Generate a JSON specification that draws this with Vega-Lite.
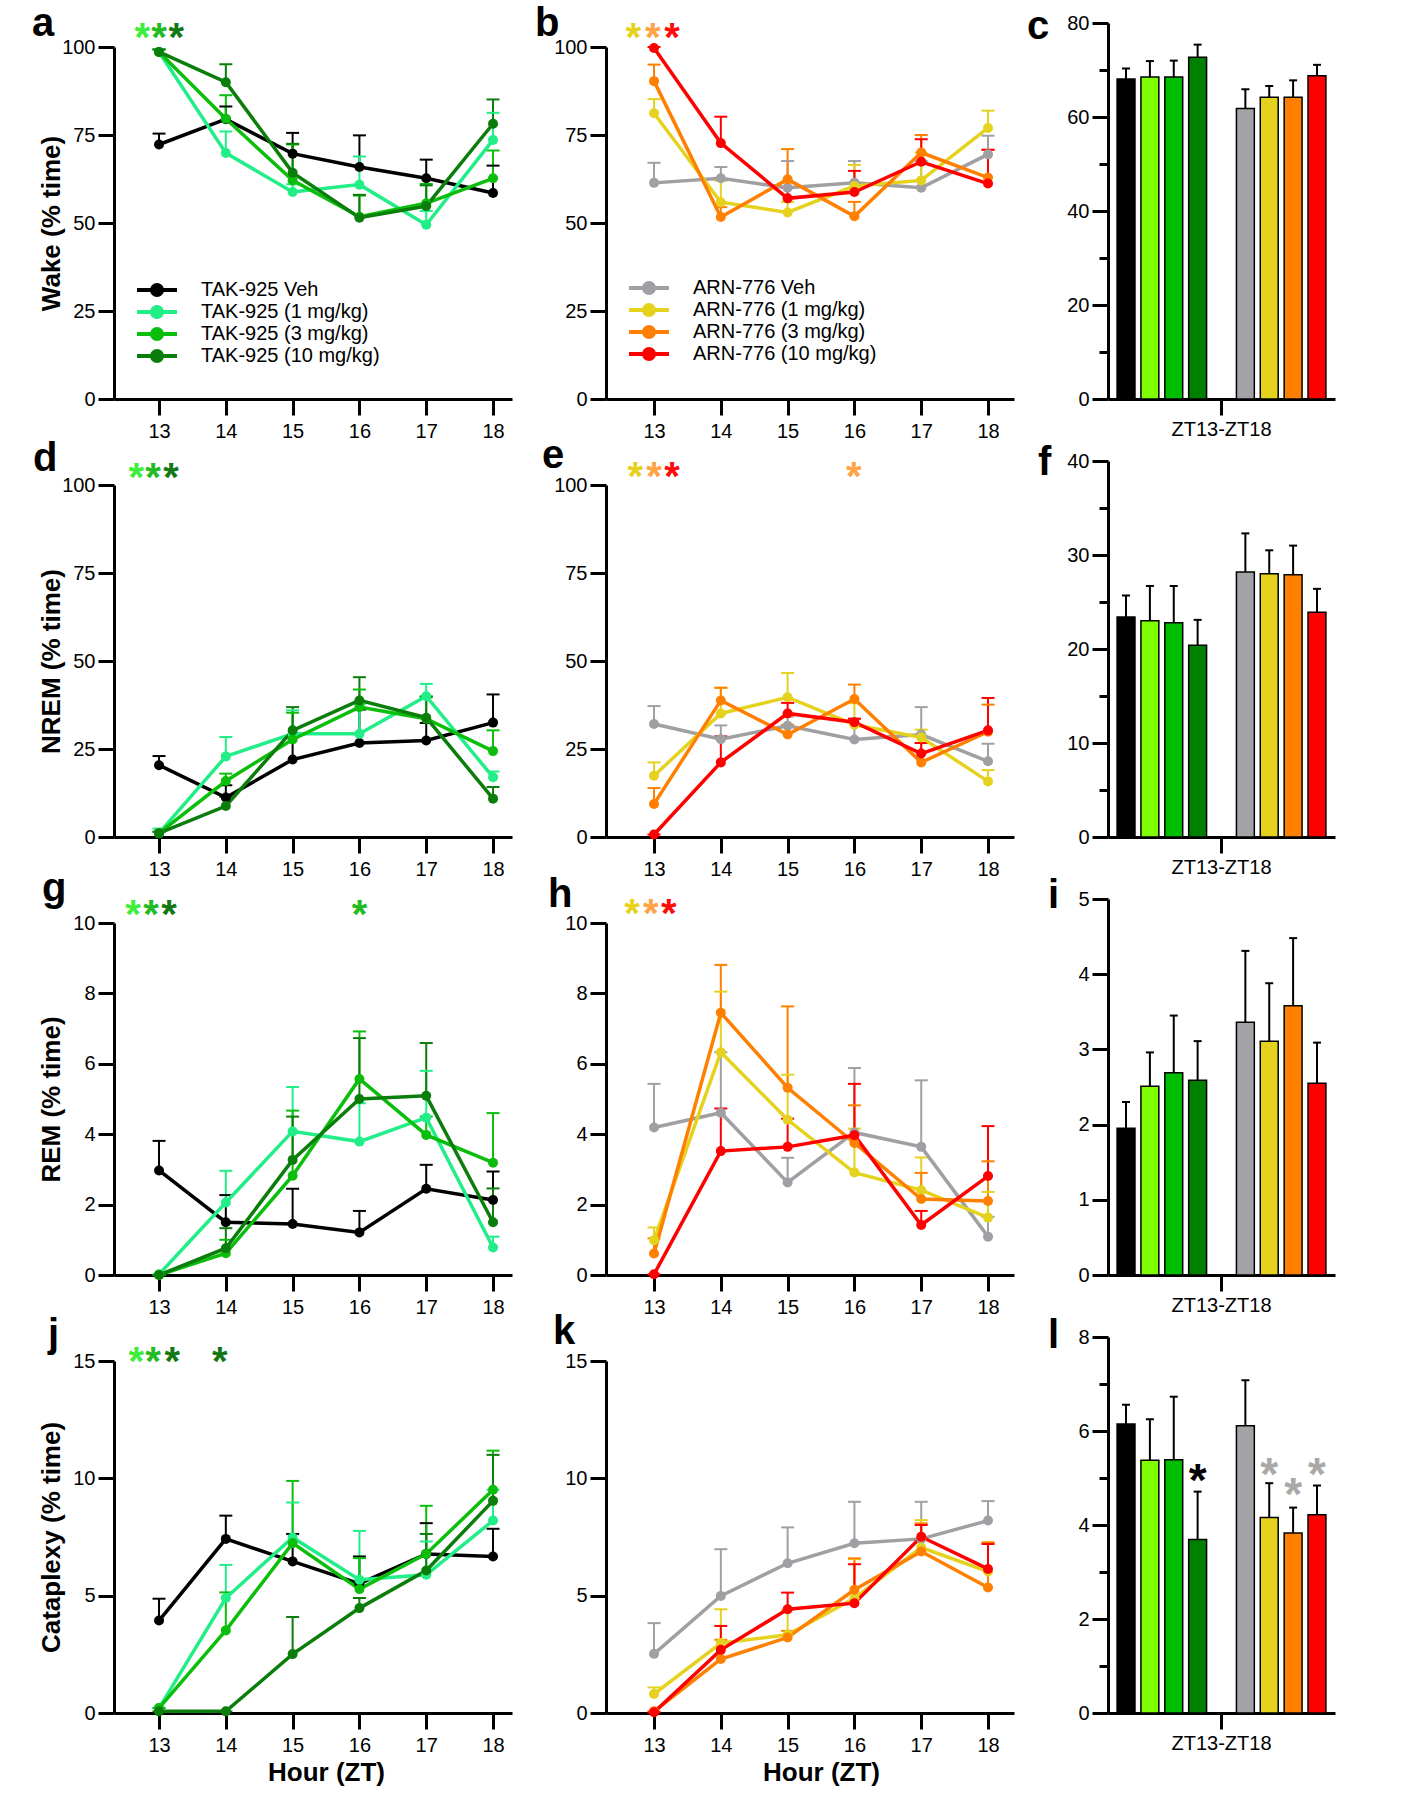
{
"$schema":"https://vega.github.io/schema/vega-lite/v6.json",
"background":"white",
"padding":{"left":32,"top":3,"right":5,"bottom":5},
"config":{
 "font":"Liberation Sans",
 "view":{"stroke":null},
 "axis":{"grid":false,"domainColor":"black","domainWidth":3,"tickColor":"black","tickWidth":3,"tickSize":16,"labelFontSize":20,"labelColor":"black","labelFont":"Liberation Sans","titleFont":"Liberation Sans","titleFontSize":26,"titleFontWeight":"bold","titleColor":"black","labelPadding":3,"labelOverlap":false,"labelFlush":false},
 "axisX":{"labelPadding":6},
 "title":{"fontSize":40,"fontWeight":"bold","anchor":"start","frame":"group","color":"black","font":"Liberation Sans","baseline":"alphabetic"}
},
"datasets":{
"lines":[
{"panel":"a","series":"TAK-925 Veh","hour":13,"mean":72.3,"upper":75.4},{"panel":"a","series":"TAK-925 Veh","hour":14,"mean":79.5,"upper":83.1},{"panel":"a","series":"TAK-925 Veh","hour":15,"mean":69.7,"upper":75.6},{"panel":"a","series":"TAK-925 Veh","hour":16,"mean":65.9,"upper":74.9},{"panel":"a","series":"TAK-925 Veh","hour":17,"mean":62.7,"upper":68.0},{"panel":"a","series":"TAK-925 Veh","hour":18,"mean":58.5,"upper":66.3},
{"panel":"a","series":"TAK-925 (1 mg/kg)","hour":13,"mean":98.6,"upper":99.3},{"panel":"a","series":"TAK-925 (1 mg/kg)","hour":14,"mean":69.9,"upper":76.0},{"panel":"a","series":"TAK-925 (1 mg/kg)","hour":15,"mean":58.8,"upper":61.0},{"panel":"a","series":"TAK-925 (1 mg/kg)","hour":16,"mean":60.9,"upper":68.9},{"panel":"a","series":"TAK-925 (1 mg/kg)","hour":17,"mean":49.5,"upper":53.4},{"panel":"a","series":"TAK-925 (1 mg/kg)","hour":18,"mean":73.6,"upper":81.3},
{"panel":"a","series":"TAK-925 (3 mg/kg)","hour":13,"mean":98.6,"upper":99.3},{"panel":"a","series":"TAK-925 (3 mg/kg)","hour":14,"mean":79.6,"upper":86.3},{"panel":"a","series":"TAK-925 (3 mg/kg)","hour":15,"mean":62.1,"upper":72.3},{"panel":"a","series":"TAK-925 (3 mg/kg)","hour":16,"mean":51.8,"upper":57.8},{"panel":"a","series":"TAK-925 (3 mg/kg)","hour":17,"mean":55.6,"upper":61.1},{"panel":"a","series":"TAK-925 (3 mg/kg)","hour":18,"mean":62.7,"upper":70.6},
{"panel":"a","series":"TAK-925 (10 mg/kg)","hour":13,"mean":98.6,"upper":99.3},{"panel":"a","series":"TAK-925 (10 mg/kg)","hour":14,"mean":90.0,"upper":95.1},{"panel":"a","series":"TAK-925 (10 mg/kg)","hour":15,"mean":64.3,"upper":72.5},{"panel":"a","series":"TAK-925 (10 mg/kg)","hour":16,"mean":51.5,"upper":58.0},{"panel":"a","series":"TAK-925 (10 mg/kg)","hour":17,"mean":54.8,"upper":60.7},{"panel":"a","series":"TAK-925 (10 mg/kg)","hour":18,"mean":78.2,"upper":85.1},
{"panel":"b","series":"ARN-776 Veh","hour":13,"mean":61.4,"upper":67.1},{"panel":"b","series":"ARN-776 Veh","hour":14,"mean":62.7,"upper":65.9},{"panel":"b","series":"ARN-776 Veh","hour":15,"mean":60.0,"upper":67.6},{"panel":"b","series":"ARN-776 Veh","hour":16,"mean":61.4,"upper":67.6},{"panel":"b","series":"ARN-776 Veh","hour":17,"mean":60.0,"upper":67.6},{"panel":"b","series":"ARN-776 Veh","hour":18,"mean":69.5,"upper":74.8},
{"panel":"b","series":"ARN-776 (1 mg/kg)","hour":13,"mean":81.2,"upper":85.2},{"panel":"b","series":"ARN-776 (1 mg/kg)","hour":14,"mean":55.9,"upper":62.0},{"panel":"b","series":"ARN-776 (1 mg/kg)","hour":15,"mean":53.0,"upper":56.0},{"panel":"b","series":"ARN-776 (1 mg/kg)","hour":16,"mean":60.5,"upper":66.5},{"panel":"b","series":"ARN-776 (1 mg/kg)","hour":17,"mean":62.1,"upper":70.0},{"panel":"b","series":"ARN-776 (1 mg/kg)","hour":18,"mean":77.0,"upper":81.9},
{"panel":"b","series":"ARN-776 (3 mg/kg)","hour":13,"mean":90.3,"upper":95.0},{"panel":"b","series":"ARN-776 (3 mg/kg)","hour":14,"mean":51.7,"upper":54.5},{"panel":"b","series":"ARN-776 (3 mg/kg)","hour":15,"mean":62.4,"upper":71.0},{"panel":"b","series":"ARN-776 (3 mg/kg)","hour":16,"mean":51.9,"upper":56.0},{"panel":"b","series":"ARN-776 (3 mg/kg)","hour":17,"mean":70.0,"upper":75.0},{"panel":"b","series":"ARN-776 (3 mg/kg)","hour":18,"mean":62.9,"upper":70.8},
{"panel":"b","series":"ARN-776 (10 mg/kg)","hour":13,"mean":99.7,"upper":100.0},{"panel":"b","series":"ARN-776 (10 mg/kg)","hour":14,"mean":72.7,"upper":80.2},{"panel":"b","series":"ARN-776 (10 mg/kg)","hour":15,"mean":57.0,"upper":60.0},{"panel":"b","series":"ARN-776 (10 mg/kg)","hour":16,"mean":58.8,"upper":64.8},{"panel":"b","series":"ARN-776 (10 mg/kg)","hour":17,"mean":67.4,"upper":73.8},{"panel":"b","series":"ARN-776 (10 mg/kg)","hour":18,"mean":61.2,"upper":70.8},
{"panel":"d","series":"TAK-925 Veh","hour":13,"mean":20.4,"upper":23.0},{"panel":"d","series":"TAK-925 Veh","hour":14,"mean":11.2,"upper":14.7},{"panel":"d","series":"TAK-925 Veh","hour":15,"mean":22.0,"upper":28.6},{"panel":"d","series":"TAK-925 Veh","hour":16,"mean":26.7,"upper":36.2},{"panel":"d","series":"TAK-925 Veh","hour":17,"mean":27.4,"upper":32.4},{"panel":"d","series":"TAK-925 Veh","hour":18,"mean":32.5,"upper":40.5},
{"panel":"d","series":"TAK-925 (1 mg/kg)","hour":13,"mean":1.1,"upper":2.4},{"panel":"d","series":"TAK-925 (1 mg/kg)","hour":14,"mean":22.9,"upper":28.4},{"panel":"d","series":"TAK-925 (1 mg/kg)","hour":15,"mean":29.3,"upper":36.0},{"panel":"d","series":"TAK-925 (1 mg/kg)","hour":16,"mean":29.3,"upper":37.8},{"panel":"d","series":"TAK-925 (1 mg/kg)","hour":17,"mean":40.0,"upper":43.5},{"panel":"d","series":"TAK-925 (1 mg/kg)","hour":18,"mean":17.0,"upper":18.6},
{"panel":"d","series":"TAK-925 (3 mg/kg)","hour":13,"mean":1.1,"upper":1.5},{"panel":"d","series":"TAK-925 (3 mg/kg)","hour":14,"mean":15.9,"upper":18.0},{"panel":"d","series":"TAK-925 (3 mg/kg)","hour":15,"mean":27.7,"upper":35.3},{"panel":"d","series":"TAK-925 (3 mg/kg)","hour":16,"mean":36.9,"upper":41.9},{"panel":"d","series":"TAK-925 (3 mg/kg)","hour":17,"mean":33.6,"upper":40.0},{"panel":"d","series":"TAK-925 (3 mg/kg)","hour":18,"mean":24.4,"upper":30.3},
{"panel":"d","series":"TAK-925 (10 mg/kg)","hour":13,"mean":1.1,"upper":1.5},{"panel":"d","series":"TAK-925 (10 mg/kg)","hour":14,"mean":8.8,"upper":11.4},{"panel":"d","series":"TAK-925 (10 mg/kg)","hour":15,"mean":30.3,"upper":36.9},{"panel":"d","series":"TAK-925 (10 mg/kg)","hour":16,"mean":38.8,"upper":45.4},{"panel":"d","series":"TAK-925 (10 mg/kg)","hour":17,"mean":33.9,"upper":39.7},{"panel":"d","series":"TAK-925 (10 mg/kg)","hour":18,"mean":10.9,"upper":14.2},
{"panel":"e","series":"ARN-776 Veh","hour":13,"mean":32.1,"upper":37.2},{"panel":"e","series":"ARN-776 Veh","hour":14,"mean":27.8,"upper":31.7},{"panel":"e","series":"ARN-776 Veh","hour":15,"mean":31.6,"upper":34.2},{"panel":"e","series":"ARN-776 Veh","hour":16,"mean":27.7,"upper":33.6},{"panel":"e","series":"ARN-776 Veh","hour":17,"mean":29.1,"upper":36.9},{"panel":"e","series":"ARN-776 Veh","hour":18,"mean":21.5,"upper":26.5},
{"panel":"e","series":"ARN-776 (1 mg/kg)","hour":13,"mean":17.4,"upper":21.2},{"panel":"e","series":"ARN-776 (1 mg/kg)","hour":14,"mean":35.1,"upper":42.4},{"panel":"e","series":"ARN-776 (1 mg/kg)","hour":15,"mean":39.7,"upper":46.6},{"panel":"e","series":"ARN-776 (1 mg/kg)","hour":16,"mean":31.9,"upper":38.0},{"panel":"e","series":"ARN-776 (1 mg/kg)","hour":17,"mean":28.3,"upper":30.5},{"panel":"e","series":"ARN-776 (1 mg/kg)","hour":18,"mean":15.8,"upper":19.0},
{"panel":"e","series":"ARN-776 (3 mg/kg)","hour":13,"mean":9.4,"upper":13.9},{"panel":"e","series":"ARN-776 (3 mg/kg)","hour":14,"mean":38.8,"upper":42.4},{"panel":"e","series":"ARN-776 (3 mg/kg)","hour":15,"mean":29.1,"upper":31.9},{"panel":"e","series":"ARN-776 (3 mg/kg)","hour":16,"mean":39.2,"upper":43.3},{"panel":"e","series":"ARN-776 (3 mg/kg)","hour":17,"mean":21.2,"upper":26.7},{"panel":"e","series":"ARN-776 (3 mg/kg)","hour":18,"mean":29.9,"upper":37.6},
{"panel":"e","series":"ARN-776 (10 mg/kg)","hour":13,"mean":0.7,"upper":0.7},{"panel":"e","series":"ARN-776 (10 mg/kg)","hour":14,"mean":21.2,"upper":28.6},{"panel":"e","series":"ARN-776 (10 mg/kg)","hour":15,"mean":35.1,"upper":38.1},{"panel":"e","series":"ARN-776 (10 mg/kg)","hour":16,"mean":32.6,"upper":33.6},{"panel":"e","series":"ARN-776 (10 mg/kg)","hour":17,"mean":23.7,"upper":26.7},{"panel":"e","series":"ARN-776 (10 mg/kg)","hour":18,"mean":30.3,"upper":39.5},
{"panel":"g","series":"TAK-925 Veh","hour":13,"mean":2.97,"upper":3.81},{"panel":"g","series":"TAK-925 Veh","hour":14,"mean":1.50,"upper":2.27},{"panel":"g","series":"TAK-925 Veh","hour":15,"mean":1.45,"upper":2.45},{"panel":"g","series":"TAK-925 Veh","hour":16,"mean":1.21,"upper":1.82},{"panel":"g","series":"TAK-925 Veh","hour":17,"mean":2.45,"upper":3.13},{"panel":"g","series":"TAK-925 Veh","hour":18,"mean":2.13,"upper":2.94},
{"panel":"g","series":"TAK-925 (1 mg/kg)","hour":13,"mean":0.02,"upper":0.02},{"panel":"g","series":"TAK-925 (1 mg/kg)","hour":14,"mean":2.06,"upper":2.96},{"panel":"g","series":"TAK-925 (1 mg/kg)","hour":15,"mean":4.08,"upper":5.34},{"panel":"g","series":"TAK-925 (1 mg/kg)","hour":16,"mean":3.79,"upper":4.88},{"panel":"g","series":"TAK-925 (1 mg/kg)","hour":17,"mean":4.47,"upper":5.80},{"panel":"g","series":"TAK-925 (1 mg/kg)","hour":18,"mean":0.78,"upper":1.09},
{"panel":"g","series":"TAK-925 (3 mg/kg)","hour":13,"mean":0.0,"upper":0.0},{"panel":"g","series":"TAK-925 (3 mg/kg)","hour":14,"mean":0.62,"upper":1.0},{"panel":"g","series":"TAK-925 (3 mg/kg)","hour":15,"mean":2.82,"upper":4.67},{"panel":"g","series":"TAK-925 (3 mg/kg)","hour":16,"mean":5.57,"upper":6.92},{"panel":"g","series":"TAK-925 (3 mg/kg)","hour":17,"mean":3.98,"upper":4.5},{"panel":"g","series":"TAK-925 (3 mg/kg)","hour":18,"mean":3.19,"upper":4.60},
{"panel":"g","series":"TAK-925 (10 mg/kg)","hour":13,"mean":0.0,"upper":0.0},{"panel":"g","series":"TAK-925 (10 mg/kg)","hour":14,"mean":0.76,"upper":1.33},{"panel":"g","series":"TAK-925 (10 mg/kg)","hour":15,"mean":3.27,"upper":4.50},{"panel":"g","series":"TAK-925 (10 mg/kg)","hour":16,"mean":5.0,"upper":6.73},{"panel":"g","series":"TAK-925 (10 mg/kg)","hour":17,"mean":5.09,"upper":6.59},{"panel":"g","series":"TAK-925 (10 mg/kg)","hour":18,"mean":1.50,"upper":2.46},
{"panel":"h","series":"ARN-776 Veh","hour":13,"mean":4.19,"upper":5.43},{"panel":"h","series":"ARN-776 Veh","hour":14,"mean":4.61,"upper":6.33},{"panel":"h","series":"ARN-776 Veh","hour":15,"mean":2.63,"upper":3.33},{"panel":"h","series":"ARN-776 Veh","hour":16,"mean":4.05,"upper":5.88},{"panel":"h","series":"ARN-776 Veh","hour":17,"mean":3.64,"upper":5.53},{"panel":"h","series":"ARN-776 Veh","hour":18,"mean":1.09,"upper":1.65},
{"panel":"h","series":"ARN-776 (1 mg/kg)","hour":13,"mean":0.99,"upper":1.35},{"panel":"h","series":"ARN-776 (1 mg/kg)","hour":14,"mean":6.33,"upper":8.05},{"panel":"h","series":"ARN-776 (1 mg/kg)","hour":15,"mean":4.41,"upper":5.69},{"panel":"h","series":"ARN-776 (1 mg/kg)","hour":16,"mean":2.91,"upper":4.16},{"panel":"h","series":"ARN-776 (1 mg/kg)","hour":17,"mean":2.41,"upper":3.34},{"panel":"h","series":"ARN-776 (1 mg/kg)","hour":18,"mean":1.63,"upper":2.36},
{"panel":"h","series":"ARN-776 (3 mg/kg)","hour":13,"mean":0.61,"upper":1.04},{"panel":"h","series":"ARN-776 (3 mg/kg)","hour":14,"mean":7.45,"upper":8.81},{"panel":"h","series":"ARN-776 (3 mg/kg)","hour":15,"mean":5.32,"upper":7.63},{"panel":"h","series":"ARN-776 (3 mg/kg)","hour":16,"mean":3.75,"upper":4.82},{"panel":"h","series":"ARN-776 (3 mg/kg)","hour":17,"mean":2.16,"upper":2.90},{"panel":"h","series":"ARN-776 (3 mg/kg)","hour":18,"mean":2.10,"upper":3.23},
{"panel":"h","series":"ARN-776 (10 mg/kg)","hour":13,"mean":0.02,"upper":0.02},{"panel":"h","series":"ARN-776 (10 mg/kg)","hour":14,"mean":3.52,"upper":4.73},{"panel":"h","series":"ARN-776 (10 mg/kg)","hour":15,"mean":3.64,"upper":4.44},{"panel":"h","series":"ARN-776 (10 mg/kg)","hour":16,"mean":3.97,"upper":5.43},{"panel":"h","series":"ARN-776 (10 mg/kg)","hour":17,"mean":1.42,"upper":1.82},{"panel":"h","series":"ARN-776 (10 mg/kg)","hour":18,"mean":2.81,"upper":4.23},
{"panel":"j","series":"TAK-925 Veh","hour":13,"mean":3.94,"upper":4.87},{"panel":"j","series":"TAK-925 Veh","hour":14,"mean":7.42,"upper":8.41},{"panel":"j","series":"TAK-925 Veh","hour":15,"mean":6.46,"upper":7.63},{"panel":"j","series":"TAK-925 Veh","hour":16,"mean":5.51,"upper":6.67},{"panel":"j","series":"TAK-925 Veh","hour":17,"mean":6.78,"upper":8.09},{"panel":"j","series":"TAK-925 Veh","hour":18,"mean":6.67,"upper":7.85},
{"panel":"j","series":"TAK-925 (1 mg/kg)","hour":13,"mean":0.21,"upper":0.21},{"panel":"j","series":"TAK-925 (1 mg/kg)","hour":14,"mean":4.90,"upper":6.31},{"panel":"j","series":"TAK-925 (1 mg/kg)","hour":15,"mean":7.48,"upper":8.97},{"panel":"j","series":"TAK-925 (1 mg/kg)","hour":16,"mean":5.68,"upper":7.76},{"panel":"j","series":"TAK-925 (1 mg/kg)","hour":17,"mean":5.89,"upper":7.31},{"panel":"j","series":"TAK-925 (1 mg/kg)","hour":18,"mean":8.20,"upper":9.51},
{"panel":"j","series":"TAK-925 (3 mg/kg)","hour":13,"mean":0.21,"upper":0.21},{"panel":"j","series":"TAK-925 (3 mg/kg)","hour":14,"mean":3.52,"upper":5.14},{"panel":"j","series":"TAK-925 (3 mg/kg)","hour":15,"mean":7.24,"upper":9.89},{"panel":"j","series":"TAK-925 (3 mg/kg)","hour":16,"mean":5.28,"upper":6.6},{"panel":"j","series":"TAK-925 (3 mg/kg)","hour":17,"mean":6.78,"upper":8.83},{"panel":"j","series":"TAK-925 (3 mg/kg)","hour":18,"mean":9.51,"upper":11.18},
{"panel":"j","series":"TAK-925 (10 mg/kg)","hour":13,"mean":0.07,"upper":0.07},{"panel":"j","series":"TAK-925 (10 mg/kg)","hour":14,"mean":0.07,"upper":0.07},{"panel":"j","series":"TAK-925 (10 mg/kg)","hour":15,"mean":2.51,"upper":4.09},{"panel":"j","series":"TAK-925 (10 mg/kg)","hour":16,"mean":4.47,"upper":4.9},{"panel":"j","series":"TAK-925 (10 mg/kg)","hour":17,"mean":6.07,"upper":7.63},{"panel":"j","series":"TAK-925 (10 mg/kg)","hour":18,"mean":9.04,"upper":11.0},
{"panel":"k","series":"ARN-776 Veh","hour":13,"mean":2.52,"upper":3.83},{"panel":"k","series":"ARN-776 Veh","hour":14,"mean":4.99,"upper":6.98},{"panel":"k","series":"ARN-776 Veh","hour":15,"mean":6.38,"upper":7.91},{"panel":"k","series":"ARN-776 Veh","hour":16,"mean":7.23,"upper":9.0},{"panel":"k","series":"ARN-776 Veh","hour":17,"mean":7.42,"upper":9.0},{"panel":"k","series":"ARN-776 Veh","hour":18,"mean":8.20,"upper":9.03},
{"panel":"k","series":"ARN-776 (1 mg/kg)","hour":13,"mean":0.81,"upper":1.09},{"panel":"k","series":"ARN-776 (1 mg/kg)","hour":14,"mean":2.98,"upper":4.42},{"panel":"k","series":"ARN-776 (1 mg/kg)","hour":15,"mean":3.33,"upper":4.40},{"panel":"k","series":"ARN-776 (1 mg/kg)","hour":16,"mean":4.89,"upper":6.56},{"panel":"k","series":"ARN-776 (1 mg/kg)","hour":17,"mean":7.05,"upper":8.22},{"panel":"k","series":"ARN-776 (1 mg/kg)","hour":18,"mean":6.03,"upper":7.27},
{"panel":"k","series":"ARN-776 (3 mg/kg)","hour":13,"mean":0.07,"upper":0.07},{"panel":"k","series":"ARN-776 (3 mg/kg)","hour":14,"mean":2.30,"upper":3.12},{"panel":"k","series":"ARN-776 (3 mg/kg)","hour":15,"mean":3.22,"upper":3.5},{"panel":"k","series":"ARN-776 (3 mg/kg)","hour":16,"mean":5.25,"upper":6.59},{"panel":"k","series":"ARN-776 (3 mg/kg)","hour":17,"mean":6.88,"upper":8.08},{"panel":"k","series":"ARN-776 (3 mg/kg)","hour":18,"mean":5.35,"upper":7.27},
{"panel":"k","series":"ARN-776 (10 mg/kg)","hour":13,"mean":0.03,"upper":0.03},{"panel":"k","series":"ARN-776 (10 mg/kg)","hour":14,"mean":2.69,"upper":3.71},{"panel":"k","series":"ARN-776 (10 mg/kg)","hour":15,"mean":4.42,"upper":5.13},{"panel":"k","series":"ARN-776 (10 mg/kg)","hour":16,"mean":4.68,"upper":6.34},{"panel":"k","series":"ARN-776 (10 mg/kg)","hour":17,"mean":7.51,"upper":8.01},{"panel":"k","series":"ARN-776 (10 mg/kg)","hour":18,"mean":6.14,"upper":7.20}
],
"bars":[
{"panel":"c","group":"TAK-925 Veh","mean":68.1,"upper":70.3},{"panel":"c","group":"TAK-925 (1 mg/kg)","mean":68.5,"upper":71.9},{"panel":"c","group":"TAK-925 (3 mg/kg)","mean":68.5,"upper":72.0},{"panel":"c","group":"TAK-925 (10 mg/kg)","mean":72.7,"upper":75.4},{"panel":"c","group":"ARN-776 Veh","mean":61.8,"upper":65.9},{"panel":"c","group":"ARN-776 (1 mg/kg)","mean":64.2,"upper":66.6},{"panel":"c","group":"ARN-776 (3 mg/kg)","mean":64.2,"upper":67.8},{"panel":"c","group":"ARN-776 (10 mg/kg)","mean":68.8,"upper":71.1},
{"panel":"f","group":"TAK-925 Veh","mean":23.4,"upper":25.7},{"panel":"f","group":"TAK-925 (1 mg/kg)","mean":23.0,"upper":26.7},{"panel":"f","group":"TAK-925 (3 mg/kg)","mean":22.8,"upper":26.7},{"panel":"f","group":"TAK-925 (10 mg/kg)","mean":20.4,"upper":23.1},{"panel":"f","group":"ARN-776 Veh","mean":28.2,"upper":32.3},{"panel":"f","group":"ARN-776 (1 mg/kg)","mean":28.0,"upper":30.5},{"panel":"f","group":"ARN-776 (3 mg/kg)","mean":27.9,"upper":31.0},{"panel":"f","group":"ARN-776 (10 mg/kg)","mean":23.9,"upper":26.4},
{"panel":"i","group":"TAK-925 Veh","mean":1.95,"upper":2.30},{"panel":"i","group":"TAK-925 (1 mg/kg)","mean":2.51,"upper":2.96},{"panel":"i","group":"TAK-925 (3 mg/kg)","mean":2.69,"upper":3.45},{"panel":"i","group":"TAK-925 (10 mg/kg)","mean":2.59,"upper":3.11},{"panel":"i","group":"ARN-776 Veh","mean":3.36,"upper":4.31},{"panel":"i","group":"ARN-776 (1 mg/kg)","mean":3.11,"upper":3.88},{"panel":"i","group":"ARN-776 (3 mg/kg)","mean":3.58,"upper":4.48},{"panel":"i","group":"ARN-776 (10 mg/kg)","mean":2.55,"upper":3.09},
{"panel":"l","group":"TAK-925 Veh","mean":6.15,"upper":6.56},{"panel":"l","group":"TAK-925 (1 mg/kg)","mean":5.38,"upper":6.25},{"panel":"l","group":"TAK-925 (3 mg/kg)","mean":5.39,"upper":6.73},{"panel":"l","group":"TAK-925 (10 mg/kg)","mean":3.69,"upper":4.71},{"panel":"l","group":"ARN-776 Veh","mean":6.11,"upper":7.08},{"panel":"l","group":"ARN-776 (1 mg/kg)","mean":4.16,"upper":4.89},{"panel":"l","group":"ARN-776 (3 mg/kg)","mean":3.83,"upper":4.37},{"panel":"l","group":"ARN-776 (10 mg/kg)","mean":4.22,"upper":4.84}
],
"stars":[
{"panel":"a","hour":12.75,"level":99.0,"vs":"TAK-925 (1 mg/kg)"},{"panel":"a","hour":13.0,"level":99.0,"vs":"TAK-925 (3 mg/kg)"},{"panel":"a","hour":13.26,"level":99.0,"vs":"TAK-925 (10 mg/kg)"},
{"panel":"b","hour":12.69,"level":98.9,"vs":"ARN-776 (1 mg/kg)"},{"panel":"b","hour":12.98,"level":98.9,"vs":"ARN-776 (3 mg/kg)"},{"panel":"b","hour":13.27,"level":98.9,"vs":"ARN-776 (10 mg/kg)"},
{"panel":"d","hour":12.66,"level":98.2,"vs":"TAK-925 (1 mg/kg)"},{"panel":"d","hour":12.91,"level":98.2,"vs":"TAK-925 (3 mg/kg)"},{"panel":"d","hour":13.18,"level":98.2,"vs":"TAK-925 (10 mg/kg)"},
{"panel":"e","hour":12.72,"level":98.6,"vs":"ARN-776 (1 mg/kg)"},{"panel":"e","hour":13.0,"level":98.6,"vs":"ARN-776 (3 mg/kg)"},{"panel":"e","hour":13.27,"level":98.6,"vs":"ARN-776 (10 mg/kg)"},{"panel":"e","hour":15.99,"level":98.6,"vs":"ARN-776 (3 mg/kg)"},
{"panel":"g","hour":12.61,"level":9.87,"vs":"TAK-925 (1 mg/kg)"},{"panel":"g","hour":12.88,"level":9.87,"vs":"TAK-925 (3 mg/kg)"},{"panel":"g","hour":13.15,"level":9.87,"vs":"TAK-925 (10 mg/kg)"},{"panel":"g","hour":16.0,"level":9.87,"vs":"TAK-925 (3 mg/kg)"},
{"panel":"h","hour":12.67,"level":9.9,"vs":"ARN-776 (1 mg/kg)"},{"panel":"h","hour":12.95,"level":9.9,"vs":"ARN-776 (3 mg/kg)"},{"panel":"h","hour":13.22,"level":9.9,"vs":"ARN-776 (10 mg/kg)"},
{"panel":"j","hour":12.66,"level":14.4,"vs":"TAK-925 (1 mg/kg)"},{"panel":"j","hour":12.91,"level":14.4,"vs":"TAK-925 (3 mg/kg)"},{"panel":"j","hour":13.2,"level":14.4,"vs":"TAK-925 (10 mg/kg)"},{"panel":"j","hour":13.91,"level":14.4,"vs":"TAK-925 (10 mg/kg)"}
],
"barstars":[
{"panel":"l","group":"TAK-925 (10 mg/kg)","level":4.62,"vs":"TAK-925 Veh"},{"panel":"l","group":"ARN-776 (1 mg/kg)","level":4.74,"vs":"ARN-776 Veh"},{"panel":"l","group":"ARN-776 (3 mg/kg)","level":4.32,"vs":"ARN-776 Veh"},{"panel":"l","group":"ARN-776 (10 mg/kg)","level":4.74,"vs":"ARN-776 Veh"}
]
},
"columns":3,
"bounds":"flush",
"align":"each",
"spacing":{"row":62,"column":94},
"resolve":{"scale":{"color":"independent","fill":"independent"},"legend":{"color":"independent","fill":"independent"}},
"concat":[
{"title":{"text":"a","dx":-82,"offset":-25},"width":398,"height":376,"layer":[
 {"data":{"name":"lines"},"transform":[{"filter":"datum.panel === 'a'"}],"mark":{"type":"rule","strokeWidth":2},"encoding":{"x":{"field":"hour","type":"quantitative","scale":{"domain":[12.326,18.284],"nice":false,"zero":false},"axis":{"values":[13,14,15,16,17,18],"format":"d","title":null}},"y":{"field":"mean","type":"quantitative","scale":{"domain":[0,100],"range":[376,24],"nice":false},"axis":{"values":[0,25,50,75,100],"title":"Wake (% time)","titleX":-50}},"y2":{"field":"upper"},"color":{"field":"series","type":"nominal","scale":{"domain":["TAK-925 Veh","TAK-925 (1 mg/kg)","TAK-925 (3 mg/kg)","TAK-925 (10 mg/kg)"],"range":["#000000","#22EE88","#0CBE0C","#0B7D0B"]}}}},
 {"data":{"name":"lines"},"transform":[{"filter":"datum.panel === 'a'"}],"mark":{"type":"tick","orient":"horizontal","size":13,"thickness":2,"opacity":1},"encoding":{"x":{"field":"hour","type":"quantitative"},"y":{"field":"upper","type":"quantitative"},"color":{"field":"series","type":"nominal"}}},
 {"data":{"name":"lines"},"transform":[{"filter":"datum.panel === 'a'"}],"mark":{"type":"line","strokeWidth":3.5},"encoding":{"x":{"field":"hour","type":"quantitative"},"y":{"field":"mean","type":"quantitative"},"color":{"field":"series","type":"nominal","legend":{"orient":"none","legendX":21,"legendY":257,"title":null,"symbolType":"M-1,0L1,0M0.25,0A0.25,0.25,0,1,1,-0.25,0A0.25,0.25,0,1,1,0.25,0Z","symbolSize":1600,"symbolStrokeWidth":4,"labelFontSize":20,"labelOffset":22,"clipHeight":20,"rowPadding":2,"padding":0,"labelLimit":400,"labelColor":"black"}}}},
 {"data":{"name":"lines"},"transform":[{"filter":"datum.panel === 'a'"}],"mark":{"type":"point","filled":true,"size":100,"opacity":1},"encoding":{"x":{"field":"hour","type":"quantitative"},"y":{"field":"mean","type":"quantitative"},"color":{"field":"series","type":"nominal"}}},
 {"data":{"name":"stars"},"transform":[{"filter":"datum.panel === 'a'"}],"mark":{"type":"text","text":"*","fontSize":40,"fontWeight":"bold","baseline":"alphabetic","align":"center"},"encoding":{"x":{"field":"hour","type":"quantitative"},"y":{"field":"level","type":"quantitative"},"fill":{"field":"vs","type":"nominal","scale":{"domain":["TAK-925 (1 mg/kg)","TAK-925 (3 mg/kg)","TAK-925 (10 mg/kg)"],"range":["#3DEE3D","#22BB22","#137813"]},"legend":null}}}
]},
{"title":{"text":"b","dx":-71,"offset":-25},"width":408,"height":376,"layer":[
 {"data":{"name":"lines"},"transform":[{"filter":"datum.panel === 'b'"}],"mark":{"type":"rule","strokeWidth":2},"encoding":{"x":{"field":"hour","type":"quantitative","scale":{"domain":[12.281,18.389],"nice":false,"zero":false},"axis":{"values":[13,14,15,16,17,18],"format":"d","title":null}},"y":{"field":"mean","type":"quantitative","scale":{"domain":[0,100],"range":[376,24],"nice":false},"axis":{"values":[0,25,50,75,100],"title":null}},"y2":{"field":"upper"},"color":{"field":"series","type":"nominal","scale":{"domain":["ARN-776 Veh","ARN-776 (1 mg/kg)","ARN-776 (3 mg/kg)","ARN-776 (10 mg/kg)"],"range":["#A0A0A4","#E5D21E","#FF8000","#FF0000"]}}}},
 {"data":{"name":"lines"},"transform":[{"filter":"datum.panel === 'b'"}],"mark":{"type":"tick","orient":"horizontal","size":13,"thickness":2,"opacity":1},"encoding":{"x":{"field":"hour","type":"quantitative"},"y":{"field":"upper","type":"quantitative"},"color":{"field":"series","type":"nominal"}}},
 {"data":{"name":"lines"},"transform":[{"filter":"datum.panel === 'b'"}],"mark":{"type":"line","strokeWidth":3.5},"encoding":{"x":{"field":"hour","type":"quantitative"},"y":{"field":"mean","type":"quantitative"},"color":{"field":"series","type":"nominal","legend":{"orient":"none","legendX":21,"legendY":255,"title":null,"symbolType":"M-1,0L1,0M0.25,0A0.25,0.25,0,1,1,-0.25,0A0.25,0.25,0,1,1,0.25,0Z","symbolSize":1600,"symbolStrokeWidth":4,"labelFontSize":20,"labelOffset":22,"clipHeight":20,"rowPadding":2,"padding":0,"labelLimit":400,"labelColor":"black"}}}},
 {"data":{"name":"lines"},"transform":[{"filter":"datum.panel === 'b'"}],"mark":{"type":"point","filled":true,"size":100,"opacity":1},"encoding":{"x":{"field":"hour","type":"quantitative"},"y":{"field":"mean","type":"quantitative"},"color":{"field":"series","type":"nominal"}}},
 {"data":{"name":"stars"},"transform":[{"filter":"datum.panel === 'b'"}],"mark":{"type":"text","text":"*","fontSize":40,"fontWeight":"bold","baseline":"alphabetic","align":"center"},"encoding":{"x":{"field":"hour","type":"quantitative"},"y":{"field":"level","type":"quantitative"},"fill":{"field":"vs","type":"nominal","scale":{"domain":["ARN-776 (1 mg/kg)","ARN-776 (3 mg/kg)","ARN-776 (10 mg/kg)"],"range":["#E6D21E","#FFA345","#FF0A0A"]},"legend":null}}}
]},
{"title":{"text":"c","dx":-81,"offset":-34},"width":227,"height":376,"layer":[
 {"data":{"name":"bars"},"transform":[{"filter":"datum.panel === 'c'"}],"mark":{"type":"bar","stroke":"black","strokeWidth":1.5},"encoding":{"x":{"field":"group","type":"nominal","scale":{"domain":["TAK-925 Veh","TAK-925 (1 mg/kg)","TAK-925 (3 mg/kg)","TAK-925 (10 mg/kg)","ZT13-ZT18","ARN-776 Veh","ARN-776 (1 mg/kg)","ARN-776 (3 mg/kg)","ARN-776 (10 mg/kg)"],"paddingInner":0.25,"paddingOuter":0.38},"axis":{"values":["ZT13-ZT18"],"labelAngle":0,"title":null,"labelPadding":4}},"y":{"field":"mean","type":"quantitative","scale":{"domain":[0,80],"nice":false},"axis":{"values":[0,10,20,30,40,50,60,70,80],"labelExpr":"datum.value % 20 === 0 ? '' + datum.value : ''","tickSize":{"condition":{"test":"datum.value % 20 === 0","value":16},"value":9},"title":null}},"color":{"field":"group","type":"nominal","scale":{"domain":["TAK-925 Veh","TAK-925 (1 mg/kg)","TAK-925 (3 mg/kg)","TAK-925 (10 mg/kg)","ARN-776 Veh","ARN-776 (1 mg/kg)","ARN-776 (3 mg/kg)","ARN-776 (10 mg/kg)"],"range":["#000000","#80FF00","#00BF00","#008000","#A3A3A7","#E5D21E","#FF8000","#FF0000"]},"legend":null}}},
 {"data":{"name":"bars"},"transform":[{"filter":"datum.panel === 'c'"}],"mark":{"type":"rule","color":"black","strokeWidth":2},"encoding":{"x":{"field":"group","type":"nominal"},"y":{"field":"mean","type":"quantitative"},"y2":{"field":"upper"}}},
 {"data":{"name":"bars"},"transform":[{"filter":"datum.panel === 'c'"}],"mark":{"type":"tick","color":"black","size":8,"thickness":2,"opacity":1},"encoding":{"x":{"field":"group","type":"nominal"},"y":{"field":"upper","type":"quantitative"}}}
]},
{"title":{"text":"d","dx":-81,"offset":-20},"width":398,"height":376,"layer":[
 {"data":{"name":"lines"},"transform":[{"filter":"datum.panel === 'd'"}],"mark":{"type":"rule","strokeWidth":2},"encoding":{"x":{"field":"hour","type":"quantitative","scale":{"domain":[12.326,18.284],"nice":false,"zero":false},"axis":{"values":[13,14,15,16,17,18],"format":"d","title":null}},"y":{"field":"mean","type":"quantitative","scale":{"domain":[0,100],"range":[376,24],"nice":false},"axis":{"values":[0,25,50,75,100],"title":"NREM (% time)","titleX":-50}},"y2":{"field":"upper"},"color":{"field":"series","type":"nominal","scale":{"domain":["TAK-925 Veh","TAK-925 (1 mg/kg)","TAK-925 (3 mg/kg)","TAK-925 (10 mg/kg)"],"range":["#000000","#22EE88","#0CBE0C","#0B7D0B"]},"legend":null}}},
 {"data":{"name":"lines"},"transform":[{"filter":"datum.panel === 'd'"}],"mark":{"type":"tick","orient":"horizontal","size":13,"thickness":2,"opacity":1},"encoding":{"x":{"field":"hour","type":"quantitative"},"y":{"field":"upper","type":"quantitative"},"color":{"field":"series","type":"nominal","legend":null}}},
 {"data":{"name":"lines"},"transform":[{"filter":"datum.panel === 'd'"}],"mark":{"type":"line","strokeWidth":3.5},"encoding":{"x":{"field":"hour","type":"quantitative"},"y":{"field":"mean","type":"quantitative"},"color":{"field":"series","type":"nominal","legend":null}}},
 {"data":{"name":"lines"},"transform":[{"filter":"datum.panel === 'd'"}],"mark":{"type":"point","filled":true,"size":100,"opacity":1},"encoding":{"x":{"field":"hour","type":"quantitative"},"y":{"field":"mean","type":"quantitative"},"color":{"field":"series","type":"nominal","legend":null}}},
 {"data":{"name":"stars"},"transform":[{"filter":"datum.panel === 'd'"}],"mark":{"type":"text","text":"*","fontSize":40,"fontWeight":"bold","baseline":"alphabetic","align":"center"},"encoding":{"x":{"field":"hour","type":"quantitative"},"y":{"field":"level","type":"quantitative"},"fill":{"field":"vs","type":"nominal","scale":{"domain":["TAK-925 (1 mg/kg)","TAK-925 (3 mg/kg)","TAK-925 (10 mg/kg)"],"range":["#3DEE3D","#22BB22","#137813"]},"legend":null}}}
]},
{"title":{"text":"e","dx":-64,"offset":-18},"width":408,"height":376,"layer":[
 {"data":{"name":"lines"},"transform":[{"filter":"datum.panel === 'e'"}],"mark":{"type":"rule","strokeWidth":2},"encoding":{"x":{"field":"hour","type":"quantitative","scale":{"domain":[12.281,18.389],"nice":false,"zero":false},"axis":{"values":[13,14,15,16,17,18],"format":"d","title":null}},"y":{"field":"mean","type":"quantitative","scale":{"domain":[0,100],"range":[376,24],"nice":false},"axis":{"values":[0,25,50,75,100],"title":null}},"y2":{"field":"upper"},"color":{"field":"series","type":"nominal","scale":{"domain":["ARN-776 Veh","ARN-776 (1 mg/kg)","ARN-776 (3 mg/kg)","ARN-776 (10 mg/kg)"],"range":["#A0A0A4","#E5D21E","#FF8000","#FF0000"]},"legend":null}}},
 {"data":{"name":"lines"},"transform":[{"filter":"datum.panel === 'e'"}],"mark":{"type":"tick","orient":"horizontal","size":13,"thickness":2,"opacity":1},"encoding":{"x":{"field":"hour","type":"quantitative"},"y":{"field":"upper","type":"quantitative"},"color":{"field":"series","type":"nominal","legend":null}}},
 {"data":{"name":"lines"},"transform":[{"filter":"datum.panel === 'e'"}],"mark":{"type":"line","strokeWidth":3.5},"encoding":{"x":{"field":"hour","type":"quantitative"},"y":{"field":"mean","type":"quantitative"},"color":{"field":"series","type":"nominal","legend":null}}},
 {"data":{"name":"lines"},"transform":[{"filter":"datum.panel === 'e'"}],"mark":{"type":"point","filled":true,"size":100,"opacity":1},"encoding":{"x":{"field":"hour","type":"quantitative"},"y":{"field":"mean","type":"quantitative"},"color":{"field":"series","type":"nominal","legend":null}}},
 {"data":{"name":"stars"},"transform":[{"filter":"datum.panel === 'e'"}],"mark":{"type":"text","text":"*","fontSize":40,"fontWeight":"bold","baseline":"alphabetic","align":"center"},"encoding":{"x":{"field":"hour","type":"quantitative"},"y":{"field":"level","type":"quantitative"},"fill":{"field":"vs","type":"nominal","scale":{"domain":["ARN-776 (1 mg/kg)","ARN-776 (3 mg/kg)","ARN-776 (10 mg/kg)"],"range":["#E6D21E","#FFA345","#FF0A0A"]},"legend":null}}}
]},
{"title":{"text":"f","dx":-70,"offset":-32},"width":227,"height":376,"layer":[
 {"data":{"name":"bars"},"transform":[{"filter":"datum.panel === 'f'"}],"mark":{"type":"bar","stroke":"black","strokeWidth":1.5},"encoding":{"x":{"field":"group","type":"nominal","scale":{"domain":["TAK-925 Veh","TAK-925 (1 mg/kg)","TAK-925 (3 mg/kg)","TAK-925 (10 mg/kg)","ZT13-ZT18","ARN-776 Veh","ARN-776 (1 mg/kg)","ARN-776 (3 mg/kg)","ARN-776 (10 mg/kg)"],"paddingInner":0.25,"paddingOuter":0.38},"axis":{"values":["ZT13-ZT18"],"labelAngle":0,"title":null,"labelPadding":4}},"y":{"field":"mean","type":"quantitative","scale":{"domain":[0,40],"nice":false},"axis":{"values":[0,5,10,15,20,25,30,35,40],"labelExpr":"datum.value % 10 === 0 ? '' + datum.value : ''","tickSize":{"condition":{"test":"datum.value % 10 === 0","value":16},"value":9},"title":null}},"color":{"field":"group","type":"nominal","scale":{"domain":["TAK-925 Veh","TAK-925 (1 mg/kg)","TAK-925 (3 mg/kg)","TAK-925 (10 mg/kg)","ARN-776 Veh","ARN-776 (1 mg/kg)","ARN-776 (3 mg/kg)","ARN-776 (10 mg/kg)"],"range":["#000000","#80FF00","#00BF00","#008000","#A3A3A7","#E5D21E","#FF8000","#FF0000"]},"legend":null}}},
 {"data":{"name":"bars"},"transform":[{"filter":"datum.panel === 'f'"}],"mark":{"type":"rule","color":"black","strokeWidth":2},"encoding":{"x":{"field":"group","type":"nominal"},"y":{"field":"mean","type":"quantitative"},"y2":{"field":"upper"}}},
 {"data":{"name":"bars"},"transform":[{"filter":"datum.panel === 'f'"}],"mark":{"type":"tick","color":"black","size":8,"thickness":2,"opacity":1},"encoding":{"x":{"field":"group","type":"nominal"},"y":{"field":"upper","type":"quantitative"}}}
]},
{"title":{"text":"g","dx":-72,"offset":-13},"width":398,"height":376,"layer":[
 {"data":{"name":"lines"},"transform":[{"filter":"datum.panel === 'g'"}],"mark":{"type":"rule","strokeWidth":2},"encoding":{"x":{"field":"hour","type":"quantitative","scale":{"domain":[12.326,18.284],"nice":false,"zero":false},"axis":{"values":[13,14,15,16,17,18],"format":"d","title":null}},"y":{"field":"mean","type":"quantitative","scale":{"domain":[0,10],"range":[376,24],"nice":false},"axis":{"values":[0,2,4,6,8,10],"title":"REM (% time)","titleX":-50}},"y2":{"field":"upper"},"color":{"field":"series","type":"nominal","scale":{"domain":["TAK-925 Veh","TAK-925 (1 mg/kg)","TAK-925 (3 mg/kg)","TAK-925 (10 mg/kg)"],"range":["#000000","#22EE88","#0CBE0C","#0B7D0B"]},"legend":null}}},
 {"data":{"name":"lines"},"transform":[{"filter":"datum.panel === 'g'"}],"mark":{"type":"tick","orient":"horizontal","size":13,"thickness":2,"opacity":1},"encoding":{"x":{"field":"hour","type":"quantitative"},"y":{"field":"upper","type":"quantitative"},"color":{"field":"series","type":"nominal","legend":null}}},
 {"data":{"name":"lines"},"transform":[{"filter":"datum.panel === 'g'"}],"mark":{"type":"line","strokeWidth":3.5},"encoding":{"x":{"field":"hour","type":"quantitative"},"y":{"field":"mean","type":"quantitative"},"color":{"field":"series","type":"nominal","legend":null}}},
 {"data":{"name":"lines"},"transform":[{"filter":"datum.panel === 'g'"}],"mark":{"type":"point","filled":true,"size":100,"opacity":1},"encoding":{"x":{"field":"hour","type":"quantitative"},"y":{"field":"mean","type":"quantitative"},"color":{"field":"series","type":"nominal","legend":null}}},
 {"data":{"name":"stars"},"transform":[{"filter":"datum.panel === 'g'"}],"mark":{"type":"text","text":"*","fontSize":40,"fontWeight":"bold","baseline":"alphabetic","align":"center"},"encoding":{"x":{"field":"hour","type":"quantitative"},"y":{"field":"level","type":"quantitative"},"fill":{"field":"vs","type":"nominal","scale":{"domain":["TAK-925 (1 mg/kg)","TAK-925 (3 mg/kg)","TAK-925 (10 mg/kg)"],"range":["#3DEE3D","#22BB22","#137813"]},"legend":null}}}
]},
{"title":{"text":"h","dx":-58,"offset":-20},"width":408,"height":376,"layer":[
 {"data":{"name":"lines"},"transform":[{"filter":"datum.panel === 'h'"}],"mark":{"type":"rule","strokeWidth":2},"encoding":{"x":{"field":"hour","type":"quantitative","scale":{"domain":[12.281,18.389],"nice":false,"zero":false},"axis":{"values":[13,14,15,16,17,18],"format":"d","title":null}},"y":{"field":"mean","type":"quantitative","scale":{"domain":[0,10],"range":[376,24],"nice":false},"axis":{"values":[0,2,4,6,8,10],"title":null}},"y2":{"field":"upper"},"color":{"field":"series","type":"nominal","scale":{"domain":["ARN-776 Veh","ARN-776 (1 mg/kg)","ARN-776 (3 mg/kg)","ARN-776 (10 mg/kg)"],"range":["#A0A0A4","#E5D21E","#FF8000","#FF0000"]},"legend":null}}},
 {"data":{"name":"lines"},"transform":[{"filter":"datum.panel === 'h'"}],"mark":{"type":"tick","orient":"horizontal","size":13,"thickness":2,"opacity":1},"encoding":{"x":{"field":"hour","type":"quantitative"},"y":{"field":"upper","type":"quantitative"},"color":{"field":"series","type":"nominal","legend":null}}},
 {"data":{"name":"lines"},"transform":[{"filter":"datum.panel === 'h'"}],"mark":{"type":"line","strokeWidth":3.5},"encoding":{"x":{"field":"hour","type":"quantitative"},"y":{"field":"mean","type":"quantitative"},"color":{"field":"series","type":"nominal","legend":null}}},
 {"data":{"name":"lines"},"transform":[{"filter":"datum.panel === 'h'"}],"mark":{"type":"point","filled":true,"size":100,"opacity":1},"encoding":{"x":{"field":"hour","type":"quantitative"},"y":{"field":"mean","type":"quantitative"},"color":{"field":"series","type":"nominal","legend":null}}},
 {"data":{"name":"stars"},"transform":[{"filter":"datum.panel === 'h'"}],"mark":{"type":"text","text":"*","fontSize":40,"fontWeight":"bold","baseline":"alphabetic","align":"center"},"encoding":{"x":{"field":"hour","type":"quantitative"},"y":{"field":"level","type":"quantitative"},"fill":{"field":"vs","type":"nominal","scale":{"domain":["ARN-776 (1 mg/kg)","ARN-776 (3 mg/kg)","ARN-776 (10 mg/kg)"],"range":["#E6D21E","#FFA345","#FF0A0A"]},"legend":null}}}
]},
{"title":{"text":"i","dx":-60,"offset":-27},"width":227,"height":376,"layer":[
 {"data":{"name":"bars"},"transform":[{"filter":"datum.panel === 'i'"}],"mark":{"type":"bar","stroke":"black","strokeWidth":1.5},"encoding":{"x":{"field":"group","type":"nominal","scale":{"domain":["TAK-925 Veh","TAK-925 (1 mg/kg)","TAK-925 (3 mg/kg)","TAK-925 (10 mg/kg)","ZT13-ZT18","ARN-776 Veh","ARN-776 (1 mg/kg)","ARN-776 (3 mg/kg)","ARN-776 (10 mg/kg)"],"paddingInner":0.25,"paddingOuter":0.38},"axis":{"values":["ZT13-ZT18"],"labelAngle":0,"title":null,"labelPadding":4}},"y":{"field":"mean","type":"quantitative","scale":{"domain":[0,5],"nice":false},"axis":{"values":[0,0.5,1,1.5,2,2.5,3,3.5,4,4.5,5],"labelExpr":"datum.value % 1 === 0 ? '' + datum.value : ''","tickSize":{"condition":{"test":"datum.value % 1 === 0","value":16},"value":9},"title":null}},"color":{"field":"group","type":"nominal","scale":{"domain":["TAK-925 Veh","TAK-925 (1 mg/kg)","TAK-925 (3 mg/kg)","TAK-925 (10 mg/kg)","ARN-776 Veh","ARN-776 (1 mg/kg)","ARN-776 (3 mg/kg)","ARN-776 (10 mg/kg)"],"range":["#000000","#80FF00","#00BF00","#008000","#A3A3A7","#E5D21E","#FF8000","#FF0000"]},"legend":null}}},
 {"data":{"name":"bars"},"transform":[{"filter":"datum.panel === 'i'"}],"mark":{"type":"rule","color":"black","strokeWidth":2},"encoding":{"x":{"field":"group","type":"nominal"},"y":{"field":"mean","type":"quantitative"},"y2":{"field":"upper"}}},
 {"data":{"name":"bars"},"transform":[{"filter":"datum.panel === 'i'"}],"mark":{"type":"tick","color":"black","size":8,"thickness":2,"opacity":1},"encoding":{"x":{"field":"group","type":"nominal"},"y":{"field":"upper","type":"quantitative"}}}
]},
{"title":{"text":"j","dx":-66,"offset":-18},"width":398,"height":376,"layer":[
 {"data":{"name":"lines"},"transform":[{"filter":"datum.panel === 'j'"}],"mark":{"type":"rule","strokeWidth":2},"encoding":{"x":{"field":"hour","type":"quantitative","scale":{"domain":[12.326,18.284],"nice":false,"zero":false},"axis":{"values":[13,14,15,16,17,18],"format":"d","title":"Hour (ZT)","titleX":212,"titlePadding":4}},"y":{"field":"mean","type":"quantitative","scale":{"domain":[0,15],"range":[376,24],"nice":false},"axis":{"values":[0,5,10,15],"title":"Cataplexy (% time)","titleX":-50}},"y2":{"field":"upper"},"color":{"field":"series","type":"nominal","scale":{"domain":["TAK-925 Veh","TAK-925 (1 mg/kg)","TAK-925 (3 mg/kg)","TAK-925 (10 mg/kg)"],"range":["#000000","#22EE88","#0CBE0C","#0B7D0B"]},"legend":null}}},
 {"data":{"name":"lines"},"transform":[{"filter":"datum.panel === 'j'"}],"mark":{"type":"tick","orient":"horizontal","size":13,"thickness":2,"opacity":1},"encoding":{"x":{"field":"hour","type":"quantitative"},"y":{"field":"upper","type":"quantitative"},"color":{"field":"series","type":"nominal","legend":null}}},
 {"data":{"name":"lines"},"transform":[{"filter":"datum.panel === 'j'"}],"mark":{"type":"line","strokeWidth":3.5},"encoding":{"x":{"field":"hour","type":"quantitative"},"y":{"field":"mean","type":"quantitative"},"color":{"field":"series","type":"nominal","legend":null}}},
 {"data":{"name":"lines"},"transform":[{"filter":"datum.panel === 'j'"}],"mark":{"type":"point","filled":true,"size":100,"opacity":1},"encoding":{"x":{"field":"hour","type":"quantitative"},"y":{"field":"mean","type":"quantitative"},"color":{"field":"series","type":"nominal","legend":null}}},
 {"data":{"name":"stars"},"transform":[{"filter":"datum.panel === 'j'"}],"mark":{"type":"text","text":"*","fontSize":40,"fontWeight":"bold","baseline":"alphabetic","align":"center"},"encoding":{"x":{"field":"hour","type":"quantitative"},"y":{"field":"level","type":"quantitative"},"fill":{"field":"vs","type":"nominal","scale":{"domain":["TAK-925 (1 mg/kg)","TAK-925 (3 mg/kg)","TAK-925 (10 mg/kg)"],"range":["#3DEE3D","#22BB22","#137813"]},"legend":null}}}
]},
{"title":{"text":"k","dx":-53,"offset":-15},"width":408,"height":376,"layer":[
 {"data":{"name":"lines"},"transform":[{"filter":"datum.panel === 'k'"}],"mark":{"type":"rule","strokeWidth":2},"encoding":{"x":{"field":"hour","type":"quantitative","scale":{"domain":[12.281,18.389],"nice":false,"zero":false},"axis":{"values":[13,14,15,16,17,18],"format":"d","title":"Hour (ZT)","titleX":215,"titlePadding":4}},"y":{"field":"mean","type":"quantitative","scale":{"domain":[0,15],"range":[376,24],"nice":false},"axis":{"values":[0,5,10,15],"title":null}},"y2":{"field":"upper"},"color":{"field":"series","type":"nominal","scale":{"domain":["ARN-776 Veh","ARN-776 (1 mg/kg)","ARN-776 (3 mg/kg)","ARN-776 (10 mg/kg)"],"range":["#A0A0A4","#E5D21E","#FF8000","#FF0000"]},"legend":null}}},
 {"data":{"name":"lines"},"transform":[{"filter":"datum.panel === 'k'"}],"mark":{"type":"tick","orient":"horizontal","size":13,"thickness":2,"opacity":1},"encoding":{"x":{"field":"hour","type":"quantitative"},"y":{"field":"upper","type":"quantitative"},"color":{"field":"series","type":"nominal","legend":null}}},
 {"data":{"name":"lines"},"transform":[{"filter":"datum.panel === 'k'"}],"mark":{"type":"line","strokeWidth":3.5},"encoding":{"x":{"field":"hour","type":"quantitative"},"y":{"field":"mean","type":"quantitative"},"color":{"field":"series","type":"nominal","legend":null}}},
 {"data":{"name":"lines"},"transform":[{"filter":"datum.panel === 'k'"}],"mark":{"type":"point","filled":true,"size":100,"opacity":1},"encoding":{"x":{"field":"hour","type":"quantitative"},"y":{"field":"mean","type":"quantitative"},"color":{"field":"series","type":"nominal","legend":null}}}
]},
{"title":{"text":"l","dx":-60,"offset":-29},"width":227,"height":376,"layer":[
 {"data":{"name":"bars"},"transform":[{"filter":"datum.panel === 'l'"}],"mark":{"type":"bar","stroke":"black","strokeWidth":1.5},"encoding":{"x":{"field":"group","type":"nominal","scale":{"domain":["TAK-925 Veh","TAK-925 (1 mg/kg)","TAK-925 (3 mg/kg)","TAK-925 (10 mg/kg)","ZT13-ZT18","ARN-776 Veh","ARN-776 (1 mg/kg)","ARN-776 (3 mg/kg)","ARN-776 (10 mg/kg)"],"paddingInner":0.25,"paddingOuter":0.38},"axis":{"values":["ZT13-ZT18"],"labelAngle":0,"title":null,"labelPadding":4}},"y":{"field":"mean","type":"quantitative","scale":{"domain":[0,8],"nice":false},"axis":{"values":[0,1,2,3,4,5,6,7,8],"labelExpr":"datum.value % 2 === 0 ? '' + datum.value : ''","tickSize":{"condition":{"test":"datum.value % 2 === 0","value":16},"value":9},"title":null}},"color":{"field":"group","type":"nominal","scale":{"domain":["TAK-925 Veh","TAK-925 (1 mg/kg)","TAK-925 (3 mg/kg)","TAK-925 (10 mg/kg)","ARN-776 Veh","ARN-776 (1 mg/kg)","ARN-776 (3 mg/kg)","ARN-776 (10 mg/kg)"],"range":["#000000","#80FF00","#00BF00","#008000","#A3A3A7","#E5D21E","#FF8000","#FF0000"]},"legend":null}}},
 {"data":{"name":"bars"},"transform":[{"filter":"datum.panel === 'l'"}],"mark":{"type":"rule","color":"black","strokeWidth":2},"encoding":{"x":{"field":"group","type":"nominal"},"y":{"field":"mean","type":"quantitative"},"y2":{"field":"upper"}}},
 {"data":{"name":"bars"},"transform":[{"filter":"datum.panel === 'l'"}],"mark":{"type":"tick","color":"black","size":8,"thickness":2,"opacity":1},"encoding":{"x":{"field":"group","type":"nominal"},"y":{"field":"upper","type":"quantitative"}}},
 {"data":{"name":"barstars"},"transform":[{"filter":"datum.panel === 'l'"}],"mark":{"type":"text","text":"*","fontSize":46,"fontWeight":"bold","baseline":"alphabetic","align":"center"},"encoding":{"x":{"field":"group","type":"nominal"},"y":{"field":"level","type":"quantitative"},"fill":{"field":"vs","type":"nominal","scale":{"domain":["TAK-925 Veh","ARN-776 Veh"],"range":["#000000","#A9A9A9"]},"legend":null}}}
]}
]
}
